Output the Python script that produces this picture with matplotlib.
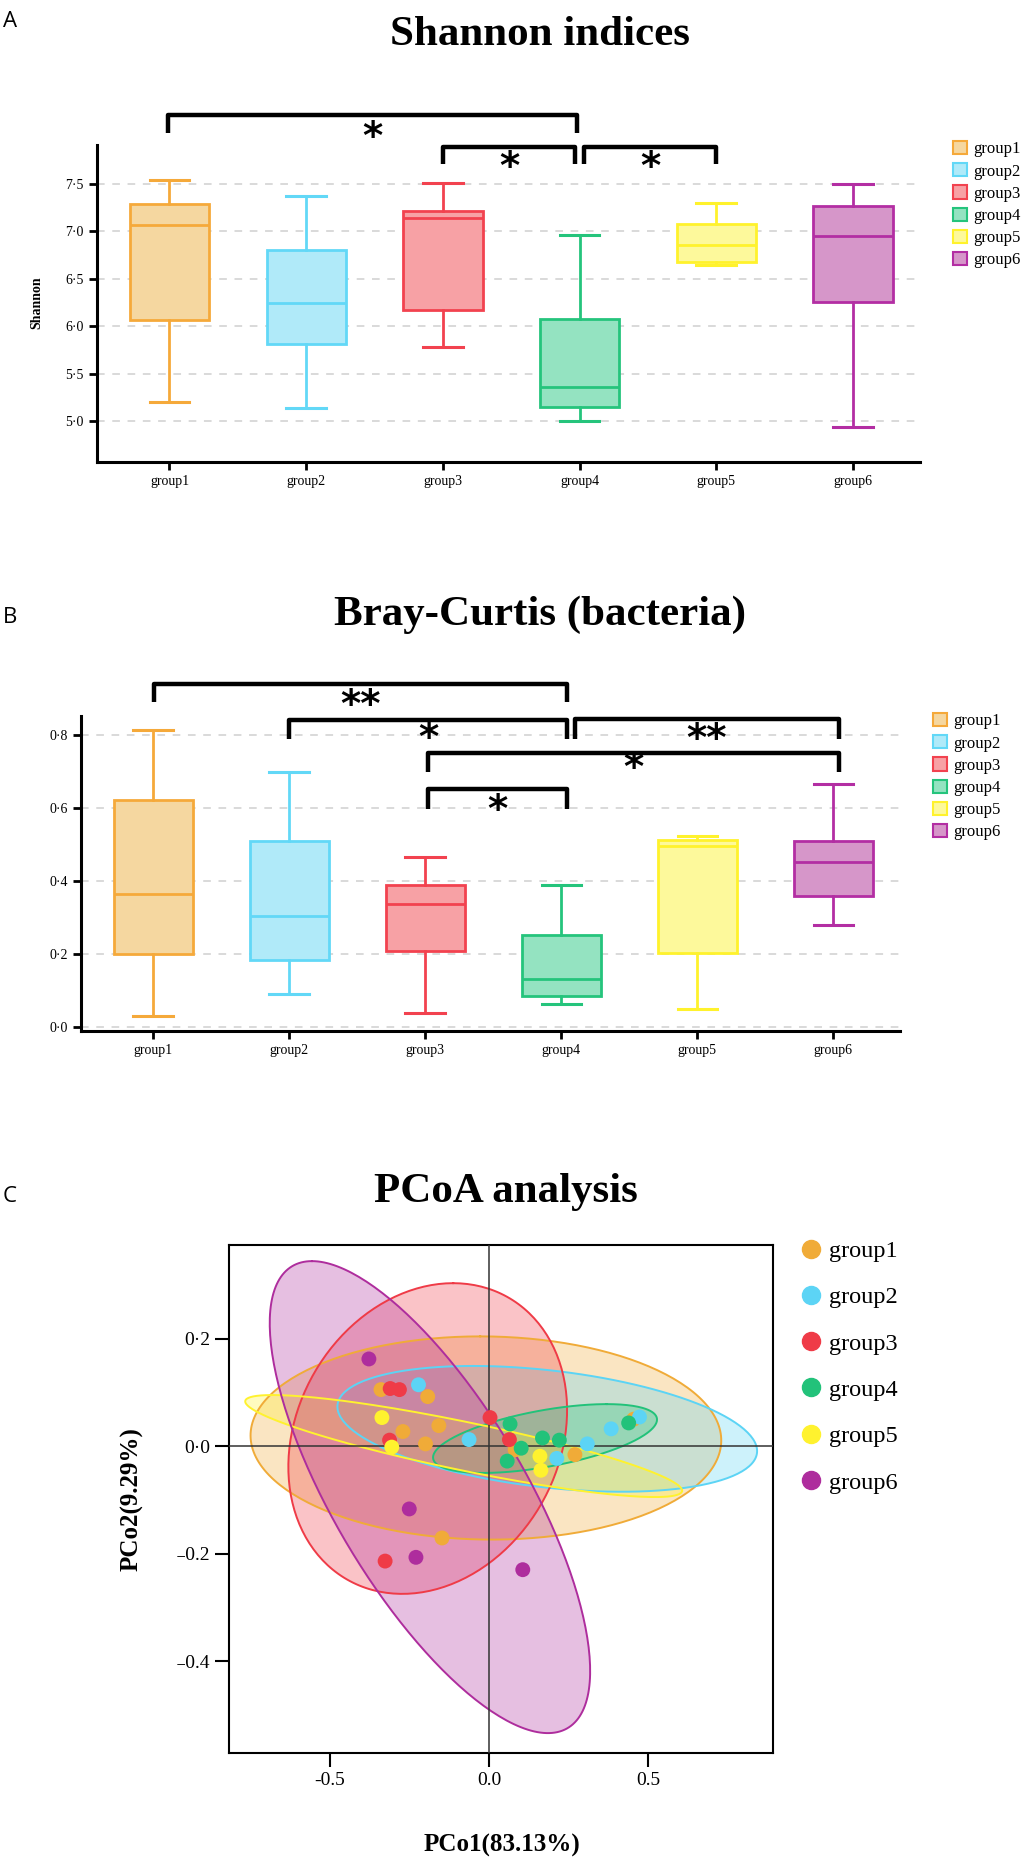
import numpy as np
import matplotlib
matplotlib.use('Agg')
import matplotlib.pyplot as plt
from matplotlib.patches import Patch, Polygon
from matplotlib.lines import Line2D

plt.rcParams['font.family'] = ['Liberation Serif', 'DejaVu Serif']

# ---------------- data ----------------
groups = ['group1', 'group2', 'group3', 'group4', 'group5', 'group6']
edge_colors = ['#F5A93A', '#62D8F7', '#F2424F', '#25C47C', '#FFF22C', '#B32EA3']
fill_colors = ['#F5D7A0', '#B0EAF9', '#F7A1A5', '#94E3C1', '#FDF99B', '#D696C9']
dot_colors = ['#F0AB38', '#5CD4F5', '#EF3B47', '#22C27A', '#FFF22E', '#AE2D9D']

# Shannon indices (box statistics)
sh_whislo = [5.20, 5.14, 5.78, 5.00, 6.64, 4.94]
sh_q1 = [6.07, 5.81, 6.17, 5.15, 6.68, 6.26]
sh_med = [7.07, 6.24, 7.14, 5.36, 6.86, 6.95]
sh_q3 = [7.29, 6.80, 7.22, 6.08, 7.08, 7.27]
sh_whishi = [7.54, 7.37, 7.51, 6.96, 7.30, 7.50]
sh_ticks = [5.0, 5.5, 6.0, 6.5, 7.0, 7.5]
sh_ticklabels = ['5·0', '5·5', '6·0', '6·5', '7·0', '7·5']

# Bray-Curtis (box statistics)
bc_whislo = [0.030, 0.089, 0.038, 0.063, 0.050, 0.279]
bc_q1 = [0.201, 0.184, 0.207, 0.085, 0.204, 0.360]
bc_med = [0.365, 0.303, 0.338, 0.131, 0.497, 0.451]
bc_q3 = [0.623, 0.509, 0.390, 0.253, 0.511, 0.510]
bc_whishi = [0.814, 0.699, 0.466, 0.390, 0.524, 0.667]
bc_ticks = [0.0, 0.2, 0.4, 0.6, 0.8]
bc_ticklabels = ['0·0', '0·2', '0·4', '0·6', '0·8']

# significance brackets
sh_sig_x1 = [0.99, 3.0, 4.03]
sh_sig_x2 = [3.98, 3.97, 5.0]
sh_sig_ytop = [8.228, 7.89, 7.89]
sh_sig_yend = [8.04, 7.71, 7.71]
sh_sig_ytxt = [7.98, 7.67, 7.67]
sh_sig_text = ['*', '*', '*']

bc_sig_x1 = [1.01, 2.0, 4.10, 3.02, 3.02]
bc_sig_x2 = [4.04, 4.04, 6.04, 6.04, 4.04]
bc_sig_ytop = [0.940, 0.841, 0.844, 0.751, 0.652]
bc_sig_yend = [0.890, 0.789, 0.789, 0.699, 0.597]
bc_sig_ytxt = [0.879, 0.788, 0.785, 0.706, 0.591]
bc_sig_text = ['**', '*', '**', '*', '*']

# PCoA points
g1_pc1 = [-0.340, -0.193, -0.271, -0.158, -0.200, 0.082, 0.270, 0.455, -0.148]
g1_pc2 = [0.105, 0.092, 0.027, 0.038, 0.004, -0.007, -0.016, 0.050, -0.171]
g2_pc1 = [-0.222, -0.063, 0.213, 0.309, 0.384, 0.473]
g2_pc2 = [0.114, 0.012, -0.023, 0.004, 0.032, 0.054]
g3_pc1 = [-0.311, -0.282, -0.313, 0.003, 0.064, -0.327]
g3_pc2 = [0.107, 0.105, 0.011, 0.053, 0.012, -0.214]
g4_pc1 = [0.066, 0.101, 0.057, 0.168, 0.221, 0.439]
g4_pc2 = [0.041, -0.004, -0.028, 0.015, 0.011, 0.043]
g5_pc1 = [-0.337, -0.306, 0.160, 0.163]
g5_pc2 = [0.053, -0.002, -0.019, -0.045]
g6_pc1 = [-0.378, -0.251, -0.230, 0.106]
g6_pc2 = [0.162, -0.117, -0.207, -0.230]

# confidence ellipses: centre + two conjugate semi-diameters
ell_cx = [-0.010, 0.183, -0.193, 0.176, -0.080, -0.186]
ell_cy = [0.015, 0.032, 0.014, 0.014, 0.000, -0.095]
ell_ux = [-0.018, -0.233, 0.080, 0.194, 0.687, -0.371]
ell_uy = [0.189, 0.117, 0.289, 0.064, -0.083, 0.439]
ell_vx = [0.740, 0.6175, 0.431, 0.294, 0.0, 0.341]
ell_vy = [0.0, 0.0, 0.0, 0.0, 0.046, 0.0]

# ---------------- figure ----------------
W, H = 1035, 1859
fig = plt.figure(figsize=(W / 100, H / 100), dpi=100)


def fx(px):
    return px / W


def fy(py):
    return 1 - py / H


def box_panel(ax, lo, q1, med, q3, hi, ticks, ticklabels, ylim):
    stats = []
    for i in range(len(groups)):
        stats.append(dict(whislo=lo[i], q1=q1[i], med=med[i], q3=q3[i], whishi=hi[i], label=groups[i]))
    ax.set_axisbelow(True)
    for t in ticks:
        ax.axhline(t, color='#cfcfcf', lw=1.1, ls=(0, (5, 5)), zorder=0)
    pos = np.arange(1, len(groups) + 1)
    bp = ax.bxp(stats, positions=pos, widths=0.58, capwidths=0.29, patch_artist=True, showfliers=False)
    for i in range(len(groups)):
        bp['boxes'][i].set_facecolor(fill_colors[i])
        bp['boxes'][i].set_edgecolor(edge_colors[i])
        bp['boxes'][i].set_linewidth(2)
        bp['medians'][i].set_color(edge_colors[i])
        bp['medians'][i].set_linewidth(2)
        for k in (2 * i, 2 * i + 1):
            bp['whiskers'][k].set_color(edge_colors[i])
            bp['whiskers'][k].set_linewidth(2)
            bp['caps'][k].set_color(edge_colors[i])
            bp['caps'][k].set_linewidth(2.2)
    ax.set_xlim(0.47, 6.49)
    ax.set_ylim(*ylim)
    ax.set_yticks(ticks)
    ax.set_yticklabels(ticklabels)
    ax.set_xticks(pos)
    ax.set_xticklabels(groups)
    ax.spines['top'].set_visible(False)
    ax.spines['right'].set_visible(False)
    ax.spines['left'].set_linewidth(2.2)
    ax.spines['bottom'].set_linewidth(2.2)
    ax.tick_params(axis='both', direction='out', length=6, width=2, labelsize=10)
    leg = ax.legend([Patch(facecolor=fill_colors[i], edgecolor=edge_colors[i], lw=1.5) for i in range(6)],
                    groups, loc='upper left', frameon=False, borderpad=0, borderaxespad=0,
                    handlelength=0.84, handleheight=0.84, handletextpad=0.36, labelspacing=0.35,
                    prop={'size': 12}, bbox_transform=fig.transFigure)
    return leg


def bracket(ax, x1, x2, ytop, yend, text, ytxt):
    ax.plot([x1, x1, x2, x2], [yend, ytop, ytop, yend], color='black', lw=3.2,
            solid_joinstyle='round', solid_capstyle='butt', clip_on=False)
    ax.text((x1 + x2) / 2, ytxt, text, ha='center', va='center', fontsize=28, weight='bold',
            family='DejaVu Sans', clip_on=False)


# ---- A: Shannon ----
axA = fig.add_axes([fx(97), fy(462), fx(823), 317 / H])
legA = box_panel(axA, sh_whislo, sh_q1, sh_med, sh_q3, sh_whishi, sh_ticks, sh_ticklabels, (4.567, 7.911))
legA.set_bbox_to_anchor((fx(953), fy(141)), transform=fig.transFigure)
for i in range(len(sh_sig_text)):
    bracket(axA, sh_sig_x1[i], sh_sig_x2[i], sh_sig_ytop[i], sh_sig_yend[i], sh_sig_text[i], sh_sig_ytxt[i])
fig.text(fx(37), fy(303), 'Shannon', rotation=90, ha='center', va='center', fontsize=10, weight='bold')
fig.text(fx(540), fy(45), 'Shannon indices', ha='center', va='baseline', fontsize=31, weight='bold')
fig.text(fx(3), fy(27), 'A', ha='left', va='baseline', fontsize=16, family='Open Sans')

# ---- B: Bray-Curtis ----
axB = fig.add_axes([fx(81), fy(1031), fx(819), 315 / H])
legB = box_panel(axB, bc_whislo, bc_q1, bc_med, bc_q3, bc_whishi, bc_ticks, bc_ticklabels, (-0.011, 0.852))
legB.set_bbox_to_anchor((fx(933), fy(713)), transform=fig.transFigure)
for i in range(len(bc_sig_text)):
    bracket(axB, bc_sig_x1[i], bc_sig_x2[i], bc_sig_ytop[i], bc_sig_yend[i], bc_sig_text[i], bc_sig_ytxt[i])
fig.text(fx(540), fy(625), 'Bray-Curtis (bacteria)', ha='center', va='baseline', fontsize=31, weight='bold')
fig.text(fx(3), fy(623), 'B', ha='left', va='baseline', fontsize=16, family='Open Sans')

# ---- C: PCoA ----
axC = fig.add_axes([fx(229), fy(1753), fx(544), 508 / H])
pc1 = [g1_pc1, g2_pc1, g3_pc1, g4_pc1, g5_pc1, g6_pc1]
pc2 = [g1_pc2, g2_pc2, g3_pc2, g4_pc2, g5_pc2, g6_pc2]
t = np.linspace(0, 2 * np.pi, 240)
for i in range(len(groups)):
    ex = ell_cx[i] + ell_ux[i] * np.cos(t) + ell_vx[i] * np.sin(t)
    ey = ell_cy[i] + ell_uy[i] * np.cos(t) + ell_vy[i] * np.sin(t)
    axC.add_patch(Polygon(np.column_stack([ex, ey]), closed=True, facecolor=dot_colors[i],
                          alpha=0.3, edgecolor='none', zorder=1))
    axC.plot(ex, ey, color=dot_colors[i], lw=1.4, zorder=2)
axC.axhline(0, color='#333333', lw=1.1, zorder=3)
axC.axvline(0, color='#333333', lw=1.1, zorder=3)
for i in range(len(groups)):
    axC.scatter(pc1[i], pc2[i], s=115, color=dot_colors[i], edgecolors='none', zorder=4)
axC.set_xlim(-0.818, 0.893)
axC.set_ylim(-0.571, 0.374)
axC.set_xticks([-0.5, 0.0, 0.5])
axC.set_xticklabels(['-0.5', '0.0', '0.5'])
axC.set_yticks([0.2, 0.0, -0.2, -0.4])
axC.set_yticklabels(['0·2', '0·0', '\u208b0.2', '\u208b0.4'])
for s in axC.spines.values():
    s.set_linewidth(1.5)
axC.tick_params(axis='both', direction='out', length=10, width=1.5, labelsize=14)
axC.legend([Line2D([], [], ls='none', marker='o', markersize=13, markerfacecolor=c, markeredgecolor=c)
            for c in dot_colors], groups, loc='upper left', frameon=False, borderpad=0,
           borderaxespad=0, handlelength=0.8, handletextpad=0.35, labelspacing=1.0,
           prop={'size': 17.5}, bbox_to_anchor=(fx(801), fy(1240)), bbox_transform=fig.transFigure)
fig.text(fx(502), fy(1852), 'PCo1(83.13%)', ha='center', va='baseline', fontsize=18, weight='bold')
fig.text(fx(132), fy(1499), 'PCo2(9.29%)', rotation=90, ha='center', va='center', fontsize=18, weight='bold')
fig.text(fx(506), fy(1202), 'PCoA analysis', ha='center', va='baseline', fontsize=31, weight='bold')
fig.text(fx(3), fy(1202), 'C', ha='left', va='baseline', fontsize=16, family='Open Sans')

fig.savefig('out.png', dpi=100)
